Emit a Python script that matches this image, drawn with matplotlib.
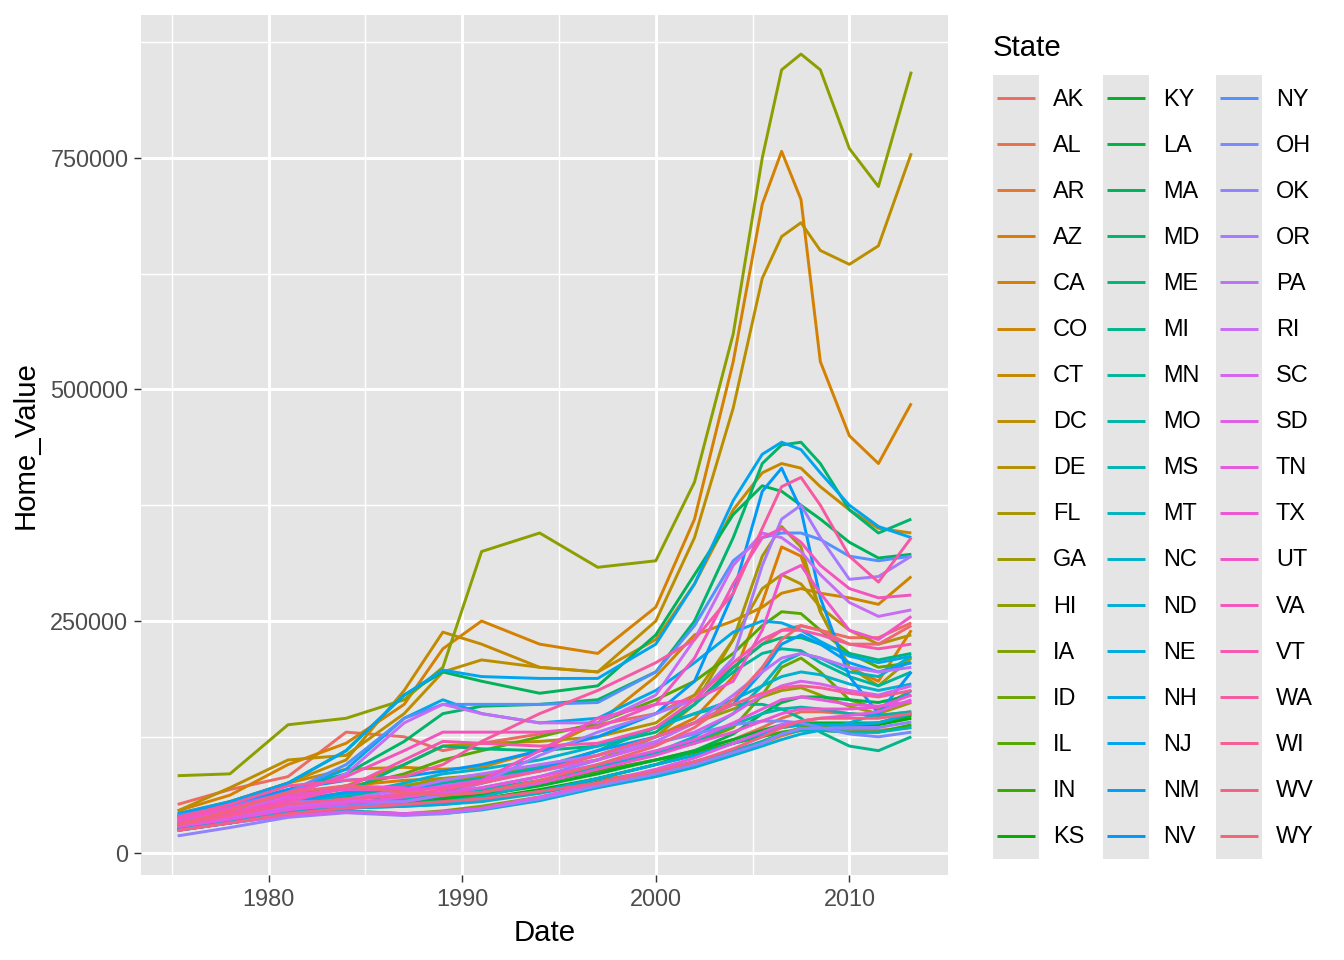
import numpy as np
import matplotlib
matplotlib.use("Agg")
import matplotlib.pyplot as plt
from matplotlib.patches import Rectangle

plt.rcParams['font.family'] = ['Liberation Sans', 'DejaVu Sans']

# sample dates (decimal years) shared by every state
years = [1975.3, 1978, 1981, 1984, 1987, 1989, 1991, 1994, 1997, 2000,
         2002, 2004, 2005.5, 2006.5, 2007.5, 2008.5, 2010, 2011.5, 2013.2]

states = ["AK", "AL", "AR", "AZ", "CA", "CO", "CT", "DC", "DE", "FL", "GA",
          "HI", "IA", "ID", "IL", "IN", "KS", "KY", "LA", "MA", "MD", "ME",
          "MI", "MN", "MO", "MS", "MT", "NC", "ND", "NE", "NH", "NJ", "NM",
          "NV", "NY", "OH", "OK", "OR", "PA", "RI", "SC", "SD", "TN", "TX",
          "UT", "VA", "VT", "WA", "WI", "WV", "WY"]

# home values in thousands of dollars
home_value_k = {
    "AK": [52, 68, 82, 130, 125, 110, 118, 128, 138, 150, 170, 200, 225, 240, 245, 240, 232, 232, 248],
    "AL": [28, 35, 45, 52, 58, 62, 66, 76, 88, 100, 110, 122, 135, 145, 152, 152, 150, 148, 152],
    "AR": [25, 32, 42, 48, 52, 55, 58, 66, 78, 88, 98, 108, 118, 126, 132, 134, 133, 132, 135],
    "AZ": [38, 48, 62, 72, 78, 80, 82, 88, 100, 125, 145, 190, 270, 330, 320, 260, 200, 185, 240],
    "CA": [45, 62, 95, 118, 160, 220, 250, 225, 215, 265, 360, 530, 700, 757, 705, 530, 450, 420, 485],
    "CO": [40, 55, 75, 90, 92, 90, 92, 110, 140, 190, 235, 250, 265, 280, 285, 280, 275, 268, 298],
    "CT": [42, 55, 75, 100, 175, 238, 225, 200, 195, 230, 290, 370, 410, 420, 415, 395, 370, 350, 345],
    "DC": [45, 70, 100, 105, 150, 195, 208, 200, 195, 250, 340, 480, 620, 665, 680, 650, 635, 655, 755],
    "DE": [35, 45, 60, 72, 95, 115, 118, 120, 125, 140, 170, 230, 285, 300, 290, 265, 240, 225, 235],
    "FL": [32, 42, 55, 65, 72, 78, 82, 90, 100, 125, 160, 230, 320, 352, 330, 260, 200, 180, 210],
    "GA": [30, 38, 50, 60, 72, 80, 84, 92, 105, 125, 140, 155, 168, 175, 178, 170, 158, 150, 162],
    "HI": [83, 85, 138, 145, 165, 200, 325, 345, 308, 315, 400, 560, 750, 845, 862, 845, 760, 719, 843],
    "IA": [25, 35, 45, 45, 42, 45, 50, 60, 72, 85, 95, 108, 120, 128, 135, 137, 138, 140, 150],
    "ID": [30, 40, 52, 55, 55, 58, 62, 75, 92, 108, 118, 135, 170, 200, 210, 195, 165, 155, 175],
    "IL": [35, 45, 62, 70, 85, 100, 110, 125, 140, 165, 185, 215, 245, 260, 258, 240, 215, 200, 205],
    "IN": [25, 33, 43, 50, 55, 60, 65, 75, 88, 100, 108, 118, 125, 130, 133, 132, 130, 130, 138],
    "KS": [24, 32, 42, 48, 52, 55, 58, 68, 80, 95, 105, 118, 128, 135, 138, 138, 137, 138, 145],
    "KY": [24, 32, 42, 48, 54, 58, 62, 72, 85, 100, 110, 122, 132, 138, 140, 140, 140, 140, 148],
    "LA": [28, 38, 52, 60, 58, 55, 58, 66, 80, 95, 110, 128, 150, 162, 168, 168, 165, 162, 170],
    "MA": [40, 52, 75, 110, 170, 195, 185, 172, 180, 235, 300, 365, 396, 390, 375, 360, 335, 318, 322],
    "MD": [38, 50, 68, 85, 120, 150, 158, 160, 165, 195, 250, 340, 420, 440, 443, 420, 370, 345, 360],
    "ME": [30, 40, 52, 65, 95, 115, 112, 110, 115, 130, 160, 200, 225, 232, 232, 225, 215, 208, 215],
    "MI": [30, 38, 48, 50, 55, 65, 75, 90, 110, 135, 150, 160, 160, 155, 145, 130, 115, 110, 125],
    "MN": [32, 42, 55, 62, 68, 75, 80, 92, 110, 135, 160, 195, 215, 220, 218, 205, 190, 180, 195],
    "MO": [26, 34, 45, 52, 58, 63, 68, 78, 92, 108, 120, 138, 150, 155, 157, 155, 150, 148, 152],
    "MS": [25, 32, 42, 48, 50, 52, 55, 64, 76, 88, 98, 110, 120, 128, 132, 132, 130, 130, 135],
    "MT": [30, 40, 52, 55, 52, 55, 60, 75, 92, 108, 125, 150, 180, 205, 215, 210, 195, 190, 212],
    "NC": [30, 40, 52, 62, 75, 85, 90, 100, 115, 135, 150, 165, 180, 190, 195, 192, 182, 175, 182],
    "ND": [24, 32, 40, 45, 42, 42, 46, 56, 70, 82, 92, 105, 115, 122, 128, 132, 140, 150, 175],
    "NE": [25, 33, 43, 48, 50, 52, 56, 66, 80, 95, 105, 118, 128, 135, 138, 138, 138, 140, 150],
    "NH": [36, 48, 65, 90, 145, 165, 150, 140, 145, 175, 205, 238, 250, 248, 240, 228, 212, 205, 212],
    "NJ": [42, 55, 75, 110, 170, 197, 190, 188, 188, 225, 290, 380, 430, 443, 435, 410, 375, 352, 340],
    "NM": [32, 42, 55, 65, 70, 72, 75, 90, 110, 125, 140, 160, 195, 225, 235, 225, 205, 195, 205],
    "NV": [40, 52, 68, 78, 82, 88, 95, 110, 125, 150, 185, 280, 390, 415, 370, 275, 190, 150, 195],
    "NY": [40, 50, 65, 95, 145, 160, 160, 160, 162, 195, 245, 315, 340, 345, 345, 338, 320, 315, 320],
    "OH": [30, 38, 48, 50, 55, 62, 70, 82, 100, 118, 128, 138, 142, 142, 140, 135, 128, 125, 130],
    "OK": [18, 27, 38, 43, 40, 42, 47, 58, 72, 85, 95, 108, 118, 128, 134, 134, 135, 135, 141],
    "OR": [30, 42, 55, 55, 55, 62, 75, 105, 130, 150, 165, 210, 310, 360, 375, 340, 295, 298, 320],
    "PA": [30, 38, 50, 58, 68, 78, 85, 95, 105, 120, 140, 170, 195, 210, 215, 210, 200, 195, 200],
    "RI": [35, 45, 60, 85, 140, 160, 150, 140, 140, 170, 230, 310, 345, 340, 325, 300, 270, 255, 262],
    "SC": [30, 38, 48, 55, 65, 72, 78, 88, 100, 118, 130, 150, 170, 180, 185, 182, 175, 170, 180],
    "SD": [24, 32, 40, 44, 42, 44, 48, 60, 75, 90, 102, 118, 130, 138, 142, 145, 148, 152, 165],
    "TN": [28, 36, 46, 53, 60, 65, 70, 82, 95, 110, 122, 140, 155, 165, 168, 165, 160, 158, 163],
    "TX": [32, 42, 58, 72, 70, 62, 65, 75, 90, 105, 118, 130, 142, 150, 155, 155, 155, 157, 170],
    "UT": [35, 48, 62, 68, 68, 70, 78, 110, 145, 160, 165, 185, 240, 300, 310, 280, 240, 230, 255],
    "VA": [38, 48, 65, 82, 110, 130, 130, 130, 135, 160, 210, 290, 340, 350, 335, 310, 285, 275, 278],
    "VT": [32, 42, 55, 70, 100, 120, 118, 115, 118, 135, 165, 205, 230, 240, 240, 235, 225, 220, 225],
    "WA": [38, 52, 72, 78, 82, 95, 120, 150, 175, 205, 230, 280, 350, 395, 405, 375, 320, 292, 340],
    "WI": [30, 40, 52, 58, 62, 68, 75, 88, 105, 125, 140, 160, 172, 178, 180, 178, 172, 168, 175],
    "WV": [24, 32, 42, 48, 52, 55, 58, 66, 75, 88, 98, 112, 125, 135, 142, 145, 145, 145, 150],
    "WY": [30, 45, 65, 72, 65, 62, 65, 78, 95, 115, 135, 165, 200, 230, 245, 240, 225, 225, 245],
}

y_ticks = [0, 250000, 500000, 750000]
x_ticks = [1980, 1990, 2000, 2010]


def hue_pal(n, h0=15, c=100.0, l=61.0):
    # evenly spaced HCL hues, like ggplot's default discrete palette
    h = np.deg2rad(h0 + 360.0 * np.arange(n) / n)
    xn, yn, zn = 95.047, 100.0, 108.883
    y = yn * ((l + 16) / 116) ** 3
    den = xn + 15 * yn + 3 * zn
    un, vn = 4 * xn / den, 9 * yn / den
    up = c * np.cos(h) / (13 * l) + un
    vp = c * np.sin(h) / (13 * l) + vn
    x = 9 * y * up / (4 * vp)
    z = -x / 3 - 5 * y + 3 * y / vp
    xyz = np.stack([x, np.full(n, y), z]) / 100.0
    m = np.array([[3.2406, -1.5372, -0.4986],
                  [-0.9689, 1.8758, 0.0415],
                  [0.0557, -0.2040, 1.0570]])
    rgb = m @ xyz
    rgb = np.where(rgb > 0.0031308, 1.055 * np.clip(rgb, 0, None) ** (1 / 2.4) - 0.055, 12.92 * rgb)
    return [tuple(col) for col in np.clip(rgb, 0, 1).T]


colors = hue_pal(len(states))
bg = "#E5E5E5"
lw_data = 1.1

fig = plt.figure(figsize=(7, 5), dpi=192)
W, H = 1344, 960
ax = fig.add_axes([141 / W, 1 - 875 / H, (948 - 141) / W, (875 - 15) / H])
ax.set_facecolor(bg)

for st, col in zip(states, colors):
    vals = np.array(home_value_k[st]) * 1000
    ax.plot(years, vals, color=col, lw=lw_data, solid_joinstyle="round",
            solid_capstyle="butt", zorder=3)

ax.margins(x=0.05, y=0.05)
ax.set_xticks(x_ticks)
ax.set_xticks([1975, 1985, 1995, 2005], minor=True)
ax.set_yticks(y_ticks)
ax.set_yticklabels([str(v) for v in y_ticks])
ax.set_yticks([125000, 375000, 625000, 875000], minor=True)
ax.grid(which="major", color="white", lw=1.07, zorder=0)
ax.grid(which="minor", color="white", lw=0.53, zorder=0)
ax.set_axisbelow(True)
for sp in ax.spines.values():
    sp.set_visible(False)
ax.tick_params(which="major", length=2.75, width=0.53, color="#333333",
               labelsize=8.8, labelcolor="#4D4D4D", pad=2)
ax.tick_params(which="minor", length=0)
ax.set_xlabel("Date", fontsize=11, labelpad=3)
ax.set_ylabel("Home_Value", fontsize=11, labelpad=4)

# legend drawn in pixel space, laid out like ggplot's guide
lax = fig.add_axes([0, 0, 1, 1], zorder=5)
lax.set_xlim(0, W)
lax.set_ylim(H, 0)
lax.axis("off")
lax.text(993, 48, "State", fontsize=11, va="center", ha="left")
col_x = [993, 1103, 1216]
row_h = 46.1
n_rows = 17
for ci, x0 in enumerate(col_x):
    lax.add_patch(Rectangle((x0, 98 - row_h / 2), 46, row_h * n_rows, color=bg, lw=0))
    for ri in range(n_rows):
        k = ci * n_rows + ri
        if k >= len(states):
            break
        yc = 98 + ri * row_h
        lax.plot([x0 + 4, x0 + 42], [yc, yc], color=colors[k], lw=lw_data,
                 solid_capstyle="butt")
        lax.text(x0 + 60, yc + 1, states[k], fontsize=8.8, va="center", ha="left")

fig.savefig("out.png", dpi=192)
